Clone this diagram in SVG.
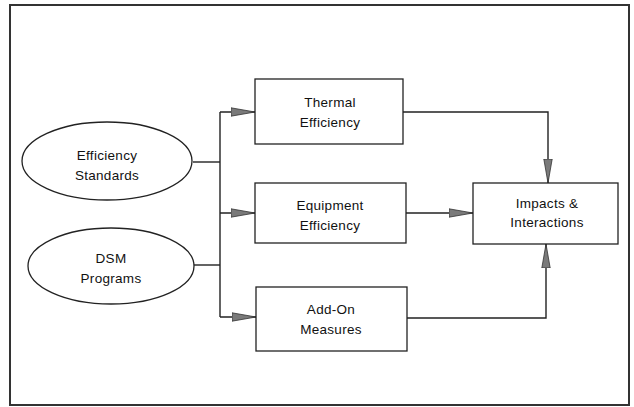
<svg xmlns="http://www.w3.org/2000/svg" width="634" height="407" viewBox="0 0 634 407">
  <style>
    .frame { fill: none; stroke: #333; stroke-width: 2; }
    .node { fill: #fff; stroke: #222; stroke-width: 1.3; }
    .label { font-family: "Liberation Sans", Arial, sans-serif; font-size: 13.5px; fill: #111; text-anchor: middle; letter-spacing: 0.3px; }
    .wire { fill: none; stroke: #222; stroke-width: 1.4; }
  </style>
  <defs>
    <marker id="arrow" viewBox="0 0 24 10" refX="24" refY="5" markerWidth="24" markerHeight="10" markerUnits="userSpaceOnUse" orient="auto">
      <path d="M0,0.8 L24,5 L0,9.2 Z" fill="#7a7a7a" stroke="#333" stroke-width="0.8"/>
    </marker>
  </defs>
  <rect width="634" height="407" fill="#fff"/>
  <rect class="frame" x="10" y="5" width="619" height="400"/>

  <g id="connectors">
    <path class="wire" d="M193,162 H220"/>
    <path class="wire" d="M194,265 H220"/>
    <path class="wire" d="M220,112 V317"/>
    <path class="wire" d="M220,112 H255" marker-end="url(#arrow)"/>
    <path class="wire" d="M220,213 H255" marker-end="url(#arrow)"/>
    <path class="wire" d="M220,317 H256" marker-end="url(#arrow)"/>
    <path class="wire" d="M403,112 H548 V183" marker-end="url(#arrow)"/>
    <path class="wire" d="M406,213 H473" marker-end="url(#arrow)"/>
    <path class="wire" d="M407,318 H546 V244" marker-end="url(#arrow)"/>
  </g>

  <g id="efficiency-standards">
    <ellipse class="node" cx="107" cy="161" rx="85" ry="39"/>
    <text class="label" x="107" y="160">Efficiency</text>
    <text class="label" x="107" y="180">Standards</text>
  </g>

  <g id="dsm-programs">
    <ellipse class="node" cx="111" cy="266" rx="83" ry="38"/>
    <text class="label" x="111" y="263">DSM</text>
    <text class="label" x="111" y="283">Programs</text>
  </g>

  <g id="thermal-efficiency">
    <rect class="node" x="255" y="79" width="148" height="65"/>
    <text class="label" x="330" y="107">Thermal</text>
    <text class="label" x="330" y="127">Efficiency</text>
  </g>

  <g id="equipment-efficiency">
    <rect class="node" x="255" y="183" width="151" height="60"/>
    <text class="label" x="330" y="210">Equipment</text>
    <text class="label" x="330" y="230">Efficiency</text>
  </g>

  <g id="add-on-measures">
    <rect class="node" x="256" y="287" width="151" height="64"/>
    <text class="label" x="331" y="314">Add-On</text>
    <text class="label" x="331" y="334">Measures</text>
  </g>

  <g id="impacts-interactions">
    <rect class="node" x="473" y="183" width="145" height="61"/>
    <text class="label" x="547" y="208">Impacts &amp;</text>
    <text class="label" x="547" y="227">Interactions</text>
  </g>
</svg>
